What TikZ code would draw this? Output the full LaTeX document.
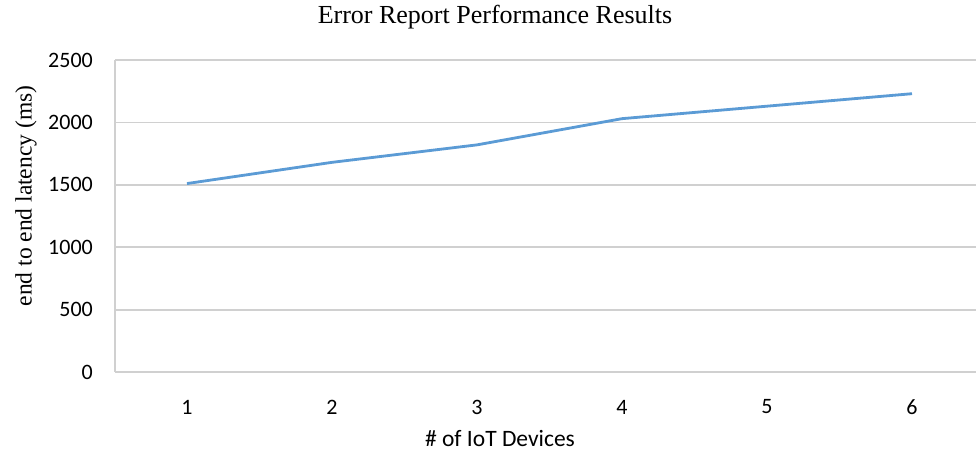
\documentclass[tikz,border=0pt]{standalone}
\usepackage{fontspec}
\setmainfont{Liberation Serif}
\newfontfamily\calib{Carlito}
\definecolor{gridgray}{RGB}{208,208,208}
\definecolor{serieblue}{RGB}{91,155,213}
\begin{document}
\begin{tikzpicture}[x=1pt,y=-1pt,
  gridline/.style={draw=gridgray,line width=1.8pt},
  ticklbl/.style={font=\calib\fontsize{22}{24}\selectfont,inner sep=0pt},
  axtitle/.style={font=\calib\fontsize{23.5}{26}\selectfont,inner sep=0pt},
  series/.style={draw=serieblue,line width=2.8pt,line join=round},
  ttl/.style={font=\fontsize{26}{28}\selectfont,inner sep=0pt},
  ytl/.style={font=\fontsize{23.5}{26}\selectfont,inner sep=0pt}]
\useasboundingbox[fill=white] (0,0) rectangle (976,451);
% horizontal grid lines, 0 to 2500 in steps of 500
\foreach \v in {0,500,...,2500}{
  \draw[gridline] (115,{372-\v*0.1248}) -- (976,{372-\v*0.1248});
  \node[ticklbl,anchor=east] (y\v) at (93,{372-\v*0.1248}) {\v};
}
% left axis
\draw[gridline] (115,60) -- (115,372);
% category labels
\foreach \i in {1,...,6}{
  \node[ticklbl] (x\i) at ({187+(\i-1)*145},407) {\i};
}
% data points
\foreach \i/\v in {1/1510,2/1680,3/1820,4/2030,5/2130,6/2230}{
  \coordinate (p\i) at ({187+(\i-1)*145},{372-\v*0.1248});
}
\draw[series] (p1) -- (p2) -- (p3) -- (p4) -- (p5) -- (p6);
% titles
\node[ttl] (title) at (495,17) {Error Report Performance Results};
\node[ytl,rotate=90] (ytitle) at (26,196) {end to end latency (ms)};
\node[axtitle] (xtitle) at (500,438) {\# of IoT Devices};
\end{tikzpicture}
\end{document}
